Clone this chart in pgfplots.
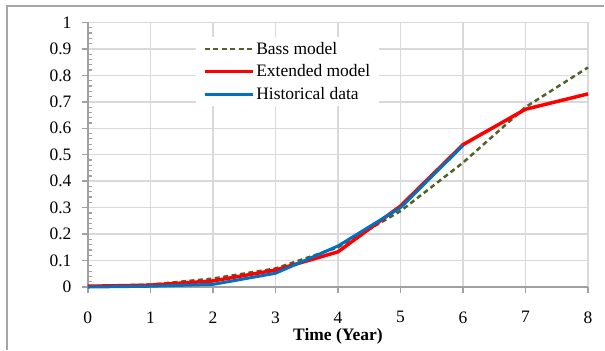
\documentclass[border=0pt]{standalone}
\usepackage{pgfplots}
\pgfplotsset{compat=1.18}
\usepackage{fontspec}
\setmainfont{Liberation Serif}

\definecolor{bassgreen}{HTML}{4F6228}
\definecolor{extred}{HTML}{FF0000}
\definecolor{histblue}{HTML}{0070C0}
\definecolor{axisgray}{HTML}{A0A0A0}
\definecolor{gridgray}{HTML}{D9D9D9}
\definecolor{framegray}{HTML}{A6A6A6}

\begin{document}
\begin{tikzpicture}
\begin{axis}[
  at={(0,0)}, anchor=south west,
  scale only axis,
  width=501bp, height=265bp,
  xmin=0, xmax=8, ymin=0, ymax=1,
  xtick={0,...,8},
  ytick={0,0.1,...,1},
  minor y tick num=4,
  axis x line*=bottom, axis y line*=left,
  axis line style={draw=axisgray, line width=2bp, -},
  tick style={draw=axisgray, line width=1.5bp},
  tick align=outside,
  major tick length=6bp,
  minor tick length=4bp,
  minor y tick style={xshift=4bp, line width=1.2bp},
  grid=major,
  major grid style={draw=gridgray, line width=1.5bp},
  font=\fontsize{17.5bp}{20bp}\selectfont,
  /pgf/number format/assume math mode=true,
  /pgf/number format/fixed,
  /pgf/number format/precision=1,
  yticklabel style={xshift=-7bp},
  xticklabel style={yshift=-15bp},
  xlabel={\textbf{Time (Year)}},
  x label style={at={(axis description cs:0.5,0)}, anchor=center, yshift=-49bp},
  clip=false,
  legend cell align=left,
  legend style={at={(axis description cs:0.2156,0.945)}, anchor=north west,
    draw=none, fill=white, font=\fontsize{17.5bp}{20bp}\selectfont,
    row sep=5bp, inner xsep=7bp, inner ysep=3bp},
  legend image code/.code={\draw[#1] (0bp,0bp) -- (48bp,0bp);},
]
% Bass diffusion model
\addplot[bassgreen, line width=2.5bp, dash pattern=on 5bp off 3.5bp] coordinates {
  (0,0.003) (1,0.009) (2,0.032) (3,0.070) (4,0.150) (5,0.287) (6,0.470) (7,0.680) (8,0.830)};
\addlegendentry{Bass model}
% Extended model
\addplot[extred, line width=3.5bp] coordinates {
  (0,0.003) (1,0.007) (2,0.023) (3,0.064) (4,0.133) (5,0.306) (6,0.538) (7,0.672) (8,0.730)};
\addlegendentry{Extended model}
% Historical data
\addplot[histblue, line width=3bp] coordinates {
  (0,0.000) (1,0.003) (2,0.010) (3,0.052) (4,0.155) (5,0.300) (6,0.535)};
\addlegendentry{Historical data}
\end{axis}
% page extent and chart frame
\path (-88bp,-63bp) rectangle (517bp,287.5bp);
\draw[framegray, line width=2bp] (-81bp,-63bp) -- (-81bp,281.5bp) -- (517bp,281.5bp);
\end{tikzpicture}
\end{document}
